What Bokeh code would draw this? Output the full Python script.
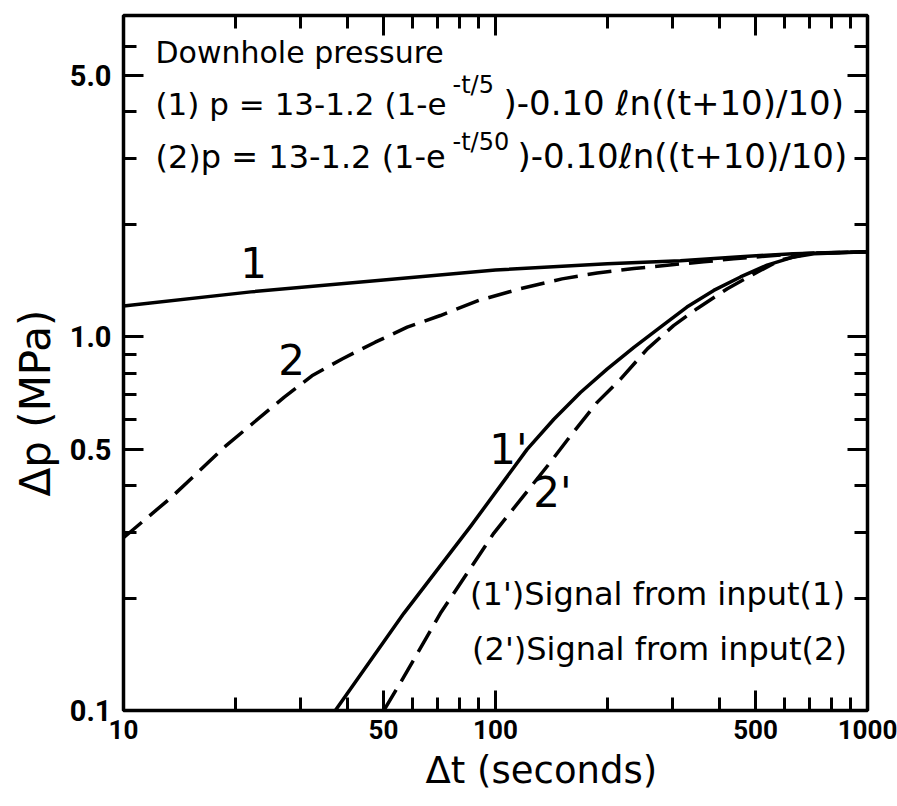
from bokeh.plotting import figure
from bokeh.models import (FixedTicker, LogAxis, Label, Title,
                          PrintfTickFormatter, CustomJSTickFormatter)
from bokeh.embed import file_html
from bokeh.resources import INLINE

# ---- data ----
t_1 = [10, 22, 50, 100, 200, 314, 455, 632, 1000]
dp_1 = [1.21, 1.32, 1.42, 1.51, 1.57, 1.60, 1.64, 1.67, 1.69]

t_2 = [10, 13.4, 15.8, 18.8, 22.4, 27.0, 32.1, 38.7, 47.5, 57.9, 71.1, 90.2,
       116.7, 151, 187.6, 235.5, 289.5, 363, 437, 584, 700, 1000]
dp_2 = [0.29, 0.371, 0.433, 0.51, 0.59, 0.689, 0.787, 0.873, 0.968, 1.062, 1.141, 1.252,
        1.346, 1.43, 1.483, 1.524, 1.556, 1.588, 1.62, 1.656, 1.675, 1.69]

t_1p = [37.1, 56.7, 85.7, 106, 121.6, 143.5, 169.2, 199.5, 235.5, 277.6, 327, 386,
        455.6, 537, 634, 717, 1000]
dp_1p = [0.1, 0.182, 0.311, 0.415, 0.5, 0.602, 0.71, 0.82, 0.938, 1.062, 1.202, 1.332,
         1.447, 1.556, 1.637, 1.67, 1.69]

t_2p = [50.1, 56.7, 71.1, 99, 140, 159, 187.6, 216.8, 256, 301, 348, 420, 505, 584, 700, 1000]
dp_2p = [0.1, 0.123, 0.182, 0.2985, 0.46, 0.543, 0.668, 0.771, 0.929, 1.072, 1.19, 1.346,
         1.49, 1.606, 1.675, 1.69]

x_major = [10, 50, 100, 500, 1000]
x_minor = [20, 30, 40, 60, 70, 80, 90, 200, 300, 400, 600, 700, 800, 900]
y_major = [0.1, 0.5, 1, 5]
y_minor = [0.2, 0.3, 0.4, 0.6, 0.7, 0.8, 0.9, 2, 3, 4, 6]

x_title = "Δt (seconds)"
y_title = "Δp (MPa)"
title_text = "Downhole pressure"
eq1 = ["(1) p = 13-1.2 (1-e", "-t/5", ")-0.10 ℓn((t+10)/10)"]
eq2 = ["(2)p = 13-1.2 (1-e", "-t/50", ")-0.10ℓn((t+10)/10)"]
legend_texts = ["(1')Signal from input(1)", "(2')Signal from input(2)"]
curve_names = ["1", "2", "1'", "2'"]

# ---- figure ----
FONT = "DejaVu Sans"
TICKFONT = "Roboto"
FL, FB = 123, 710  # frame left / bottom in page pixels
LW = 3.5

p = figure(width=897, height=806, x_axis_type="log", y_axis_type="log",
           x_range=(10, 1000), y_range=(0.1, 7.25),
           output_backend="svg", toolbar_location=None,
           min_border_left=123, min_border_right=30,
           min_border_top=15, min_border_bottom=96)
p.xgrid.visible = False
p.ygrid.visible = False
p.outline_line_color = "black"
p.outline_line_width = LW
p.background_fill_color = "white"
p.border_fill_color = "white"


def style_axis(ax, major, minor, label_size=None):
    ax.ticker = FixedTicker(ticks=major, minor_ticks=minor)
    ax.axis_line_color = None
    ax.major_tick_in = 20
    ax.major_tick_out = 0
    ax.minor_tick_in = 13
    ax.minor_tick_out = 0
    ax.major_tick_line_width = 3
    ax.minor_tick_line_width = 3
    ax.major_tick_line_color = "black"
    ax.minor_tick_line_color = "black"
    ax.axis_label = None
    if label_size:
        ax.major_label_text_font = TICKFONT
        ax.major_label_text_font_size = label_size
        ax.major_label_text_font_style = "bold"
        ax.major_label_text_color = "black"
    else:
        ax.formatter = CustomJSTickFormatter(code="return '';")
        ax.major_label_text_font_size = "10px"
        ax.major_label_standoff = 0


xa = p.xaxis[0]
style_axis(xa, x_major, x_minor, "26px")
xa.formatter = PrintfTickFormatter(format="%d")
xa.major_label_standoff = 9

ya = p.yaxis[0]
style_axis(ya, y_major, y_minor, "29px")
ya.formatter = PrintfTickFormatter(format="%.1f")
ya.major_label_standoff = 12

top = LogAxis()
style_axis(top, x_major, x_minor)
p.add_layout(top, "above")
right = LogAxis()
style_axis(right, y_major, y_minor)
p.add_layout(right, "right")

# axis titles (placed in the side panels)
p.add_layout(Title(text=x_title, align="left", offset=302, standoff=11,
                   vertical_align="bottom",
                   text_font=FONT, text_font_size="37px", text_font_style="normal",
                   text_color="black"), "below")
p.add_layout(Title(text=y_title, align="left", offset=214, standoff=14,
                   vertical_align="bottom",
                   text_font=FONT, text_font_size="42px", text_font_style="normal",
                   text_color="black"), "left")

# ---- curves ----
p.line(t_1, dp_1, line_color="black", line_width=LW, line_join="round")
p.line(t_2, dp_2, line_color="black", line_width=LW, line_dash="24 10", line_join="round")
p.line(t_1p, dp_1p, line_color="black", line_width=LW, line_join="round")
p.line(t_2p, dp_2p, line_color="black", line_width=LW, line_dash="24 10", line_join="round")


def lab(text, px, py, size, align="left"):
    # px, py: left/centre and baseline of the text in page pixels
    p.add_layout(Label(x=px - FL, y=FB - py + 0.43 * size, x_units="screen", y_units="screen",
                       text=text, text_font=FONT, text_font_size=f"{size}px",
                       text_color="black", text_align=align,
                       text_baseline="alphabetic"))


# annotations
lab(title_text, 155, 65, 30)
lab(eq1[0], 155, 117, 31)
lab(eq1[1], 452, 95, 24)
lab(eq1[2], 503, 117, 34)
lab(eq2[0], 155, 170, 32)
lab(eq2[1], 452, 152, 24)
lab(eq2[2], 517, 170, 34)

lab(curve_names[0], 253, 280, 42, align="center")
lab(curve_names[1], 291, 377, 42, align="center")
lab(curve_names[2], 508, 467, 42, align="center")
lab(curve_names[3], 552, 510, 42, align="center")

lab(legend_texts[0], 657, 607, 32, align="center")
lab(legend_texts[1], 659, 662, 32, align="center")

open("out.html", "w").write(file_html(p, INLINE))
